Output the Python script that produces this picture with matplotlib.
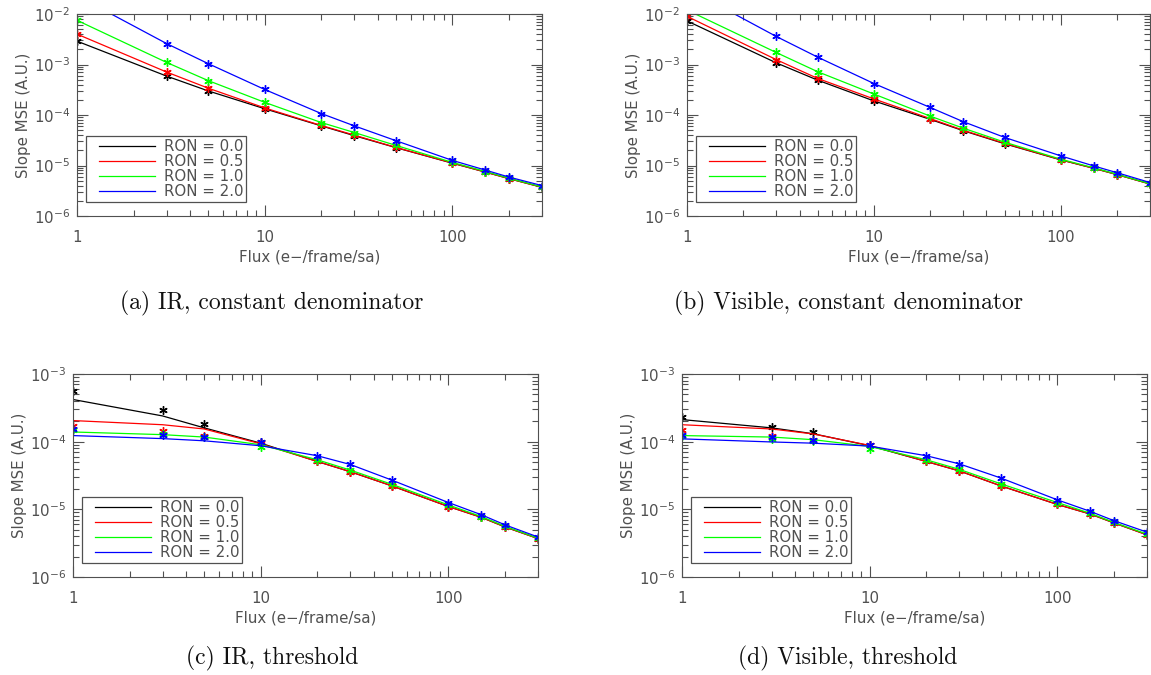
import matplotlib
matplotlib.use("Agg")
import matplotlib.pyplot as plt
from matplotlib.legend_handler import HandlerLine2D
from matplotlib.ticker import LogLocator, FixedLocator, FixedFormatter, NullFormatter

# flux sample points (e-/frame/sa)
flux = [1, 3, 5, 10, 20, 30, 50, 100, 150, 200, 300]
ron_labels = ["RON = 0.0", "RON = 0.5", "RON = 1.0", "RON = 2.0"]
ron_colors = ["#000000", "#ff0000", "#00ff00", "#0000ff"]

# (a) IR, constant denominator
a_ron00 = [2.9e-3, 5.9e-4, 3.0e-4, 1.33e-4, 6.1e-5, 3.9e-5, 2.26e-5, 1.11e-5, 7.4e-6, 5.5e-6, 3.7e-6]
a_ron05 = [4.0e-3, 7.1e-4, 3.4e-4, 1.38e-4, 6.2e-5, 4.0e-5, 2.28e-5, 1.12e-5, 7.4e-6, 5.5e-6, 3.7e-6]
a_ron10 = [7.5e-3, 1.1e-3, 4.8e-4, 1.78e-4, 7.1e-5, 4.5e-5, 2.5e-5, 1.15e-5, 7.6e-6, 5.6e-6, 3.75e-6]
a_ron20 = [2.3e-2, 2.6e-3, 1.04e-3, 3.2e-4, 1.07e-4, 6.1e-5, 3.1e-5, 1.26e-5, 8.1e-6, 5.9e-6, 4.0e-6]

# (b) Visible, constant denominator
b_ron00 = [7.3e-3, 1.08e-3, 4.9e-4, 1.9e-4, 8.2e-5, 4.9e-5, 2.7e-5, 1.29e-5, 8.8e-6, 6.6e-6, 4.3e-6]
b_ron05 = [9.0e-3, 1.25e-3, 5.3e-4, 2.08e-4, 8.5e-5, 5.0e-5, 2.75e-5, 1.3e-5, 8.8e-6, 6.6e-6, 4.3e-6]
b_ron10 = [1.2e-2, 1.73e-3, 7.2e-4, 2.6e-4, 9.5e-5, 5.5e-5, 2.9e-5, 1.33e-5, 9.0e-6, 6.7e-6, 4.35e-6]
b_ron20 = [3.2e-2, 3.6e-3, 1.4e-3, 4.2e-4, 1.41e-4, 7.4e-5, 3.6e-5, 1.55e-5, 9.8e-6, 7.2e-6, 4.6e-6]

# (c) IR, threshold: model curves and simulated points
c_ron00 = [4.2e-4, 2.4e-4, 1.6e-4, 9.5e-5, 5.1e-5, 3.6e-5, 2.22e-5, 1.1e-5, 7.6e-6, 5.5e-6, 3.7e-6]
c_ron05 = [2.05e-4, 1.78e-4, 1.54e-4, 9.3e-5, 5.1e-5, 3.6e-5, 2.22e-5, 1.1e-5, 7.6e-6, 5.5e-6, 3.7e-6]
c_ron10 = [1.39e-4, 1.27e-4, 1.17e-4, 9.0e-5, 5.4e-5, 3.8e-5, 2.34e-5, 1.16e-5, 7.8e-6, 5.6e-6, 3.75e-6]
c_ron20 = [1.23e-4, 1.11e-4, 1.03e-4, 8.7e-5, 6.2e-5, 4.6e-5, 2.7e-5, 1.26e-5, 8.3e-6, 5.9e-6, 3.9e-6]
c_ron00_sim = [5.6e-4, 2.9e-4, 1.85e-4, 1.0e-4, 5.1e-5, 3.6e-5, 2.22e-5, 1.1e-5, 7.6e-6, 5.5e-6, 3.7e-6]
c_ron05_sim = [1.7e-4, 1.46e-4, 1.23e-4, 9.5e-5, 5.1e-5, 3.6e-5, 2.22e-5, 1.1e-5, 7.6e-6, 5.5e-6, 3.7e-6]
c_ron10_sim = [1.5e-4, 1.3e-4, 1.17e-4, 8.3e-5, 5.4e-5, 3.8e-5, 2.34e-5, 1.16e-5, 7.8e-6, 5.6e-6, 3.75e-6]
c_ron20_sim = [1.55e-4, 1.27e-4, 1.17e-4, 9.8e-5, 6.2e-5, 4.6e-5, 2.7e-5, 1.26e-5, 8.3e-6, 5.9e-6, 3.9e-6]

# (d) Visible, threshold: model curves and simulated points
d_ron00 = [2.12e-4, 1.6e-4, 1.31e-4, 8.7e-5, 5.1e-5, 3.7e-5, 2.22e-5, 1.18e-5, 8.5e-6, 6.3e-6, 4.2e-6]
d_ron05 = [1.78e-4, 1.54e-4, 1.3e-4, 8.8e-5, 5.1e-5, 3.7e-5, 2.22e-5, 1.18e-5, 8.5e-6, 6.3e-6, 4.2e-6]
d_ron10 = [1.23e-4, 1.17e-4, 1.07e-4, 8.5e-5, 5.4e-5, 3.9e-5, 2.38e-5, 1.26e-5, 8.7e-6, 6.4e-6, 4.3e-6]
d_ron20 = [1.1e-4, 9.9e-5, 9.5e-5, 8.6e-5, 6.2e-5, 4.7e-5, 2.9e-5, 1.38e-5, 9.3e-6, 6.8e-6, 4.6e-6]
d_ron00_sim = [2.3e-4, 1.65e-4, 1.37e-4, 9.0e-5, 5.1e-5, 3.7e-5, 2.22e-5, 1.18e-5, 8.5e-6, 6.3e-6, 4.2e-6]
d_ron05_sim = [1.47e-4, 1.23e-4, 1.05e-4, 8.8e-5, 5.1e-5, 3.7e-5, 2.22e-5, 1.18e-5, 8.5e-6, 6.3e-6, 4.2e-6]
d_ron10_sim = [1.23e-4, 1.11e-4, 1.03e-4, 7.7e-5, 5.4e-5, 3.9e-5, 2.38e-5, 1.26e-5, 8.7e-6, 6.4e-6, 4.3e-6]
d_ron20_sim = [1.27e-4, 1.17e-4, 1.07e-4, 8.8e-5, 6.2e-5, 4.7e-5, 2.9e-5, 1.38e-5, 9.3e-6, 6.8e-6, 4.6e-6]

captions = ["(a) IR, constant denominator", "(b) Visible, constant denominator",
            "(c) IR, threshold", "(d) Visible, threshold"]

GRAY = "#505050"
plt.rcParams.update({
    "font.family": "DejaVu Sans",
    "font.size": 10.8,
    "text.color": GRAY,
    "axes.edgecolor": GRAY,
    "axes.labelcolor": GRAY,
    "xtick.color": GRAY,
    "ytick.color": GRAY,
})

fig = plt.figure(figsize=(11.51, 6.75), dpi=100)
W, H = 1151.0, 675.0


def make_axes(left, top, width, height):
    return fig.add_axes([left / W, 1 - (top + height) / H, width / W, height / H])


panels = [
    (make_axes(77, 14, 465, 202), (a_ron00, a_ron05, a_ron10, a_ron20), None, (1e-6, 1e-2)),
    (make_axes(687, 14, 463, 202), (b_ron00, b_ron05, b_ron10, b_ron20), None, (1e-6, 1e-2)),
    (make_axes(73, 374, 465, 203), (c_ron00, c_ron05, c_ron10, c_ron20),
     (c_ron00_sim, c_ron05_sim, c_ron10_sim, c_ron20_sim), (1e-6, 1e-3)),
    (make_axes(682, 374, 465, 203), (d_ron00, d_ron05, d_ron10, d_ron20),
     (d_ron00_sim, d_ron05_sim, d_ron10_sim, d_ron20_sim), (1e-6, 1e-3)),
]

for ax, lines, sims, ylim in panels:
    if sims is None:
        sims = lines
    handles = []
    for model, sim, col, lab in zip(lines, sims, ron_colors, ron_labels):
        h, = ax.plot(flux, model, color=col, lw=0.9, label=lab)
        ax.plot(flux, sim, linestyle="none", marker=(6, 2, 0), markersize=6,
                markeredgewidth=1.0, color=col)
        handles.append(h)

    ax.set_xscale("log")
    ax.set_yscale("log")
    ax.set_xlim(1, 300)
    ax.set_ylim(*ylim)

    ax.xaxis.set_major_locator(FixedLocator([1, 10, 100]))
    ax.xaxis.set_major_formatter(FixedFormatter(["1", "10", "100"]))
    ax.xaxis.set_minor_locator(LogLocator(base=10, subs=range(2, 10), numticks=20))
    ax.xaxis.set_minor_formatter(NullFormatter())
    ax.yaxis.set_minor_locator(LogLocator(base=10, subs=range(2, 10), numticks=20))
    ax.yaxis.set_minor_formatter(NullFormatter())

    ax.tick_params(which="both", direction="in", top=True, right=True)
    ax.tick_params(which="major", length=8, width=0.8, pad=5)
    ax.tick_params(which="minor", length=4, width=0.8)
    ax.tick_params(axis="x", which="major", pad=10)

    ax.set_xlabel("Flux (e\u2212/frame/sa)", labelpad=3)
    ax.set_ylabel("Slope MSE (A.U.)", labelpad=2)

    # legend line is shifted right inside its slot, like the IDL legend
    leg = ax.legend(handles=handles, loc="lower left", bbox_to_anchor=(0.019, 0.07),
                    fancybox=False, framealpha=1, edgecolor=GRAY, borderpad=0.2,
                    handlelength=4.4, handletextpad=0.6, labelspacing=0.0,
                    borderaxespad=0,
                    handler_map={h: HandlerLine2D(xpad=0.67) for h in handles})
    leg.get_frame().set_linewidth(0.9)

# sub-figure captions
cap_pos = [(272, 303), (848, 303), (272, 658), (848, 658)]
for (cx, cy), text in zip(cap_pos, captions):
    fig.text(cx / W, 1 - cy / H, text, ha="center", va="center",
             family="cmr10", fontsize=17, color="#111111")

fig.savefig("out.png", dpi=100)
